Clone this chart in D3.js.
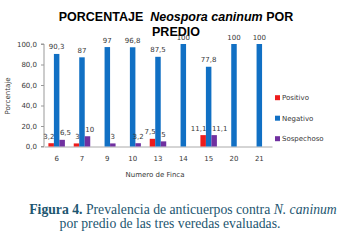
<!DOCTYPE html>
<html>
<head>
<meta charset="utf-8">
<script src="https://cdn.jsdelivr.net/npm/d3@7"></script>
<style>
  body { margin: 0; background: #fff; }
  svg { display: block; }
</style>
</head>
<body>
<div id="chart"></div>
<script>
var fincas = ["6", "7", "9", "10", "13", "14", "15", "20", "21"];
var positivo = [3.2, 3, 0, 0, 7.5, 0, 11.1, 0, 0];
var negativo = [90.3, 87, 97, 96.8, 87.5, 100, 77.8, 100, 100];
var sospechoso = [6.5, 10, 3, 3.2, 5, 0, 11.1, 0, 0];
var seriesNames = ["Positivo", "Negativo", "Sospechoso"];
var yTicks = [0, 20, 40, 60, 80, 100];

var colors = ["#ee1c1c", "#1170c4", "#7030a0"];
var fmt = function (v) { return String(v).replace(".", ","); };
var smallFont = "DejaVu Sans, sans-serif";
var textCol = "#383838";

var width = 341, height = 249;
var svg = d3.select("#chart").append("svg")
    .attr("width", width).attr("height", height);

var x = d3.scaleBand().domain(fincas).range([44, 272]);
var x1 = d3.scaleBand().domain(seriesNames).range([0, 16.5]);
var y = d3.scaleLinear().domain([0, 100]).range([146.5, 44]);

// titulo
var title = svg.append("text")
    .attr("x", 176).attr("y", 21)
    .attr("text-anchor", "middle")
    .attr("xml:space", "preserve")
    .style("font-family", "Liberation Sans, Arial, sans-serif")
    .style("font-weight", "bold").style("font-size", "12.5px");
title.append("tspan").text("PORCENTAJE  ");
title.append("tspan").style("font-style", "italic").text("Neospora caninum");
title.append("tspan").text(" POR");
svg.append("text")
    .attr("x", 176).attr("y", 36)
    .attr("text-anchor", "middle")
    .style("font-family", "Liberation Sans, Arial, sans-serif")
    .style("font-weight", "bold").style("font-size", "12.5px")
    .text("PREDIO");

// eje y
var yAxis = svg.append("g")
    .attr("transform", "translate(44,0)")
    .call(d3.axisLeft(y).tickValues(yTicks)
      .tickFormat(function (d) { return d3.format(".1f")(d).replace(".", ","); })
      .tickSize(3));
yAxis.select(".domain").attr("stroke", "#999").attr("d", "M-3,44H0V146.5H-3");
yAxis.selectAll(".tick line").attr("stroke", "#999");
yAxis.selectAll("text")
    .style("font-family", smallFont).style("font-size", "7px")
    .attr("fill", textCol).attr("x", -7);

// eje x
var xAxis = svg.append("g")
    .attr("transform", "translate(0,146.5)")
    .call(d3.axisBottom(x).tickSize(0));
xAxis.select(".domain").attr("stroke", "#aaa");
xAxis.selectAll("text")
    .style("font-family", smallFont).style("font-size", "7px")
    .attr("fill", textCol).attr("dy", "0").attr("y", 14);

// barras
var series = [positivo, negativo, sospechoso];
series.forEach(function (vals, si) {
  svg.append("g").selectAll("rect").data(vals).enter().append("rect")
      .attr("x", function (d, i) { return x(fincas[i]) + 4.4 + x1(seriesNames[si]); })
      .attr("width", x1.bandwidth())
      .attr("y", function (d) { return y(d); })
      .attr("height", function (d) { return y(0) - y(d); })
      .attr("fill", colors[si]);
});

// etiquetas de datos (rojo y morado se apartan si hay dos en el grupo)
series.forEach(function (vals, si) {
  vals.forEach(function (d, i) {
    if (d <= 0) return;
    var bx = x(fincas[i]) + 4.4 + x1(seriesNames[si]);
    var lx = bx + x1.bandwidth() / 2, anchor = "middle";
    if (si === 0) { lx = bx + x1.bandwidth() + 0.5; anchor = "end"; }
    else if (si === 2 && positivo[i] > 0) { lx = bx + 0.5; anchor = "start"; }
    svg.append("text")
        .attr("x", lx)
        .attr("y", y(d) - 4.5)
        .attr("text-anchor", anchor)
        .style("font-family", smallFont).style("font-size", "7px")
        .attr("fill", textCol)
        .text(fmt(d));
  });
});

// titulos de ejes
svg.append("text")
    .attr("transform", "translate(10,96) rotate(-90)")
    .attr("text-anchor", "middle")
    .style("font-family", smallFont).style("font-size", "7px")
    .attr("fill", textCol).text("Porcentaje");
svg.append("text")
    .attr("x", 155).attr("y", 177)
    .attr("text-anchor", "middle")
    .style("font-family", smallFont).style("font-size", "7px")
    .attr("fill", textCol).text("Numero de Finca");

// leyenda
var legend = svg.append("g").selectAll("g").data(seriesNames).enter().append("g")
    .attr("transform", function (d, i) { return "translate(275," + (97.7 + i * 20.5) + ")"; });
legend.append("rect").attr("x", 0).attr("y", -2.5).attr("width", 5).attr("height", 5)
    .attr("fill", function (d, i) { return colors[i]; });
legend.append("text").attr("x", 7).attr("y", 2.5)
    .style("font-family", smallFont).style("font-size", "7px")
    .attr("fill", textCol).text(function (d) { return d; });

// pie de figura
var cap = svg.append("text")
    .attr("x", 183).attr("y", 214)
    .attr("text-anchor", "middle")
    .attr("xml:space", "preserve")
    .style("font-family", "Liberation Serif, Times New Roman, serif")
    .style("font-size", "13.7px").attr("fill", "#1d5670");
cap.append("tspan").style("font-weight", "bold").text("Figura 4.");
cap.append("tspan").text(" Prevalencia de anticuerpos contra ");
cap.append("tspan").style("font-style", "italic").text("N. caninum");
svg.append("text")
    .attr("x", 170).attr("y", 228)
    .attr("text-anchor", "middle")
    .style("font-family", "Liberation Serif, Times New Roman, serif")
    .style("font-size", "13.7px").attr("fill", "#1d5670")
    .text("por predio de las tres veredas evaluadas.");
</script>
</body>
</html>
